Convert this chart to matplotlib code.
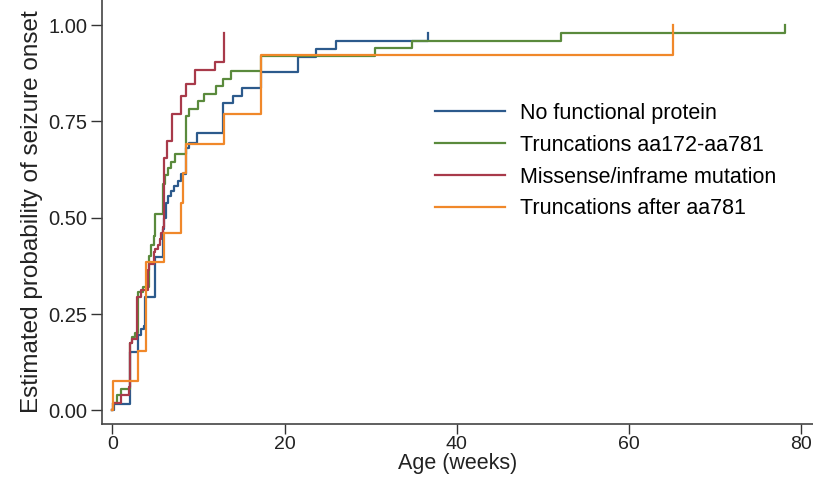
import matplotlib
matplotlib.use("Agg")
import matplotlib.pyplot as plt

plt.rcParams['font.family'] = ['Liberation Sans', 'DejaVu Sans']

# step points: (week, cumulative probability of onset)
blue_t = [0, 0.2, 2.0, 2.95, 3.3, 3.7, 3.8, 4.9, 5.85, 6.0, 6.2, 6.4, 6.8, 7.2, 7.6, 8.0,
          8.55, 8.95, 9.85, 12.9, 14.0, 15.0, 17.3, 21.6, 23.7, 26.0, 36.7]
blue_p = [0, 0.016, 0.151, 0.196, 0.212, 0.22, 0.295, 0.397, 0.47, 0.50, 0.539, 0.556, 0.569,
          0.582, 0.595, 0.613, 0.68, 0.695, 0.719, 0.797, 0.817, 0.837, 0.877, 0.916, 0.937,
          0.958, 0.979]

green_t = [0, 0.05, 0.5, 1.0, 2.0, 2.3, 2.6, 3.0, 3.5, 4.3, 4.5, 4.8, 4.96, 5.85, 6.1, 6.4,
           6.8, 7.3, 8.5, 8.95, 9.9, 10.6, 12.0, 12.9, 13.8, 17.3, 30.5, 34.8, 52.1, 78.1]
green_p = [0, 0.02, 0.04, 0.056, 0.175, 0.19, 0.2, 0.308, 0.32, 0.40, 0.43, 0.452, 0.509,
           0.587, 0.61, 0.63, 0.645, 0.665, 0.765, 0.783, 0.804, 0.822, 0.843, 0.861, 0.881,
           0.92, 0.94, 0.958, 0.979, 1.0]

red_t = [0, 0.1, 1.0, 1.9, 2.0, 2.3, 2.9, 3.3, 4.1, 4.3, 4.8, 5.0, 5.35, 5.5, 5.7, 5.85,
         5.95, 6.35, 6.95, 8.0, 8.6, 9.65, 11.9, 13.0]
red_p = [0, 0.02, 0.04, 0.06, 0.175, 0.185, 0.295, 0.313, 0.363, 0.38, 0.41, 0.42, 0.43,
         0.444, 0.46, 0.475, 0.655, 0.70, 0.77, 0.817, 0.846, 0.883, 0.904, 0.98]

orange_t = [0, 0.05, 2.95, 3.9, 6.05, 7.97, 8.15, 8.55, 13.0, 17.3, 65.1]
orange_p = [0, 1/13, 2/13, 5/13, 6/13, 7/13, 8/13, 9/13, 10/13, 12/13, 1.0]

labels = ["No functional protein", "Truncations aa172-aa781",
          "Missense/inframe mutation", "Truncations after aa781"]
colors = ['#2c5a8c', '#5a8a3c', '#a83a4a', '#f0882a']

fig = plt.figure(figsize=(8.13, 4.8), dpi=100)
ax = fig.add_axes([0.126, 0.117, 0.874, 0.883])

series = [(blue_t, blue_p), (green_t, green_p), (red_t, red_p), (orange_t, orange_p)]
for (t, p), lab, c in zip(series, labels, colors):
    ax.step(t, p, where='post', color=c, lw=1.6, label=lab)

ax.set_xlim(-1.16, 81.4)
ax.set_ylim(-0.035, 1.065)
ax.set_xticks([0, 20, 40, 60, 80])
ax.set_yticks([0, 0.25, 0.5, 0.75, 1.0])
ax.set_yticklabels(["0.00", "0.25", "0.50", "0.75", "1.00"])
ax.tick_params(labelsize=14.5, length=8, width=1, color='#333333', labelcolor='#222222', pad=3)
ax.tick_params(axis='x', labelsize=14, length=7, pad=2)
ax.spines['top'].set_visible(False)
ax.spines['right'].set_visible(False)
for s in ['left', 'bottom']:
    ax.spines[s].set_color('#444444')
    ax.spines[s].set_linewidth(1.2)

ax.set_xlabel("Age (weeks)", fontsize=15.5, color='#222222', labelpad=0)
ax.set_ylabel("Estimated probability of seizure onset", fontsize=17.5, color='#222222', labelpad=4)

ax.legend(loc='upper left', bbox_to_anchor=(435 / 813, 1 - 103 / 480),
          bbox_transform=fig.transFigure, frameon=False, fontsize=15.5,
          handlelength=3.25, handletextpad=0.7, labelspacing=0.5, borderpad=0,
          borderaxespad=0)

fig.savefig("out.png", dpi=100)
